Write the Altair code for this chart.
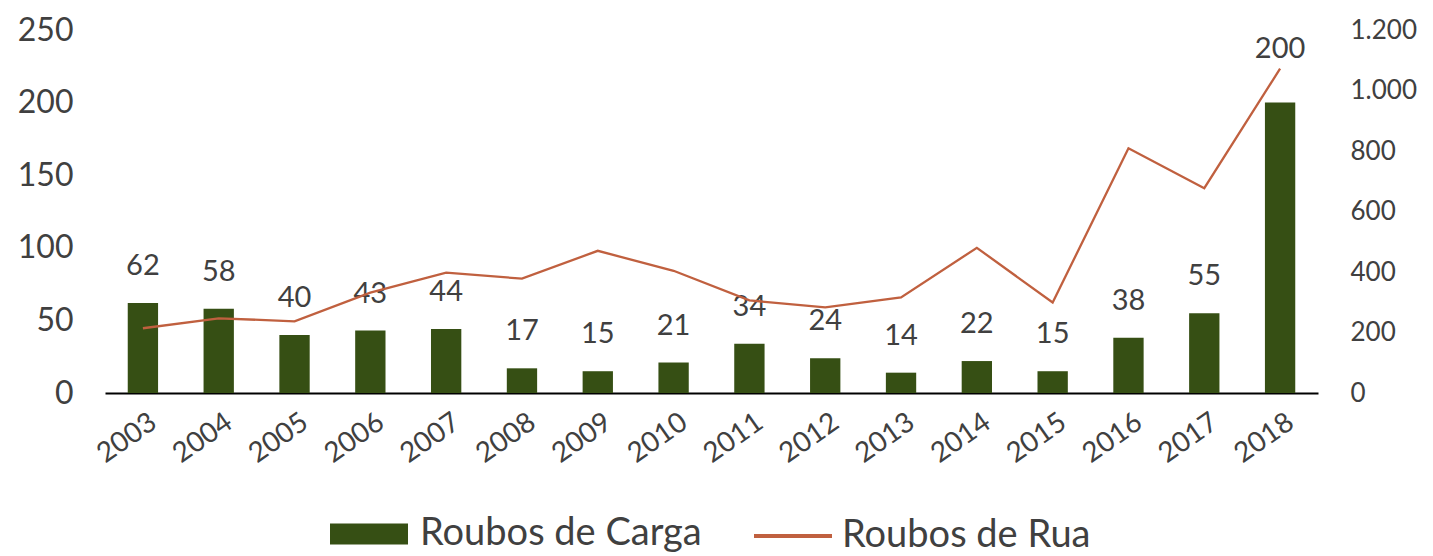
import altair as alt
import pandas as pd

anos = [str(a) for a in range(2003, 2019)]
roubos_carga = [62, 58, 40, 43, 44, 17, 15, 21, 34, 24, 14, 22, 15, 38, 55, 200]
roubos_rua = [214, 247, 237, 332, 398, 378, 470, 404, 306, 283, 316, 480, 299, 809, 677, 1072]
series = ["Roubos de Carga", "Roubos de Rua"]

df = pd.DataFrame({"ano": anos, "carga": roubos_carga, "rua": roubos_rua,
                   "s_carga": series[0], "s_rua": series[1]})

FONT = "Lato"
GREEN = "#364f14"
BROWN = "#c0603f"
TXT = "#404040"

x = alt.X("ano:N", sort=anos, title=None,
          scale=alt.Scale(paddingInner=0.6, paddingOuter=0.3),
          axis=alt.Axis(labelAngle=-35, labelAlign="right", labelBaseline="top",
                        labelFontSize=28, labelFont=FONT, labelColor=TXT,
                        labelOffset=3, labelPadding=15,
                        ticks=False, domainColor="#000000", domainWidth=2))

base = alt.Chart(df)

bars = base.mark_bar().encode(
    x=x,
    y=alt.Y("carga:Q", title=None,
            scale=alt.Scale(domain=[0, 250], nice=False),
            axis=alt.Axis(values=[0, 50, 100, 150, 200, 250], grid=False, domain=False,
                          ticks=False, labelFontSize=32, labelFont=FONT,
                          labelColor=TXT, labelPadding=32)),
    fill=alt.Fill("s_carga:N",
                  scale=alt.Scale(domain=[series[0]], range=[GREEN]),
                  legend=alt.Legend(title=None, orient="none", legendX=225, legendY=465,
                                    symbolType="M-1,-0.27H1V0.27H-1Z", symbolSize=6084,
                                    symbolStrokeWidth=0, labelFontSize=38, labelFont=FONT,
                                    labelColor=TXT, labelOffset=12, labelLimit=600,
                                    padding=0)),
)

labels = base.transform_filter("datum.ano != '2018'").mark_text(
    baseline="bottom", dy=-22, fontSize=29, font=FONT, color=TXT
).encode(x=x, y=alt.Y("carga:Q"), text="carga:Q")

label_last = base.transform_filter("datum.ano == '2018'").mark_text(
    baseline="bottom", dy=-39, fontSize=29, font=FONT, color=TXT
).encode(x=x, y=alt.Y("carga:Q"), text="carga:Q")

left = alt.layer(bars, labels, label_last)

line = base.mark_line(strokeWidth=2.3).encode(
    x=x,
    y=alt.Y("rua:Q", title=None,
            scale=alt.Scale(domain=[0, 1200], nice=False),
            axis=alt.Axis(orient="right", values=[0, 200, 400, 600, 800, 1000, 1200],
                          grid=False, domain=False, ticks=False, labelFontSize=26,
                          labelFont=FONT, labelColor=TXT, labelPadding=32,
                          labelExpr="replace(format(datum.value, ','), ',', '.')")),
    stroke=alt.Stroke("s_rua:N",
                      scale=alt.Scale(domain=[series[1]], range=[BROWN]),
                      legend=alt.Legend(title=None, orient="none", legendX=647, legendY=465,
                                        symbolType="stroke", symbolSize=6084,
                                        symbolStrokeWidth=4, labelFontSize=38,
                                        labelFont=FONT, labelColor=TXT, labelOffset=8,
                                        labelLimit=600, padding=0)),
)

chart = alt.layer(left, line).resolve_scale(y="independent").properties(
    width=1213, height=363,
    autosize=alt.AutoSizeParams(type="none"),
    padding={"left": 97, "top": 22, "right": 107, "bottom": 163},
).configure_view(stroke=None)

chart.save("out.html", embed_options={"renderer": "svg", "actions": False})
